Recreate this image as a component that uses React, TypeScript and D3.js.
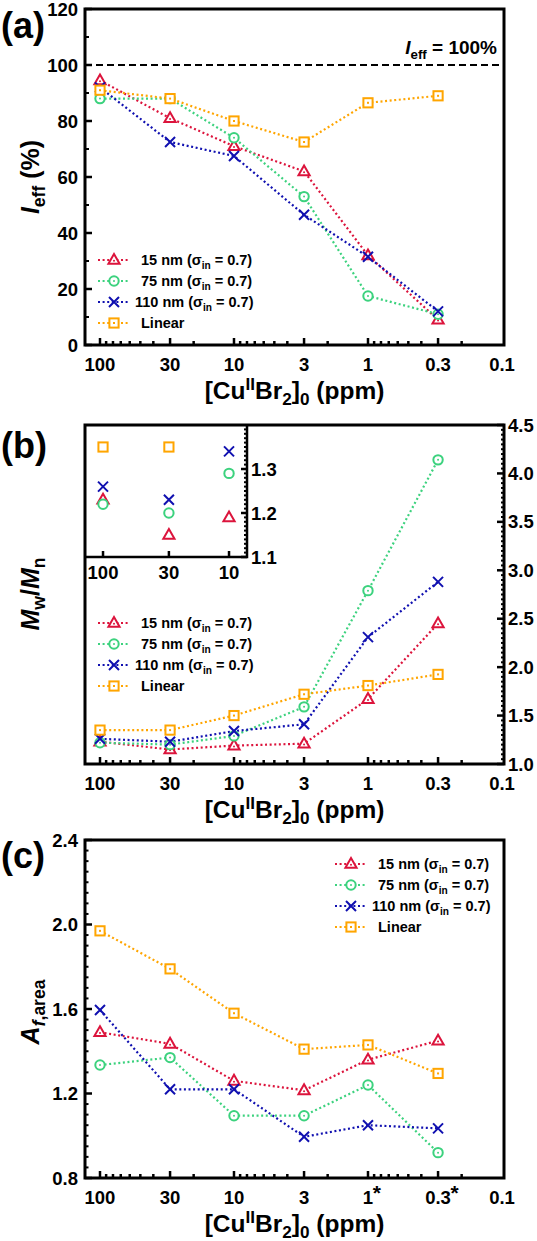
import * as d3 from 'd3';
import React, { useRef, useEffect } from 'react';

// [CuIIBr2]0 in ppm, one entry per point of every series
const conc = [100, 30, 10, 3, 1, 0.3];
const tickValsX = [100, 30, 10, 3, 1, 0.3, 0.1];
const tickLabelsAB = ["100", "30", "10", "3", "1", "0.3", "0.1"];
const tickLabelsC = ["100", "30", "10", "3", "1*", "0.3*", "0.1"];

const seriesNames = ["15 nm", "75 nm", "110 nm", "Linear"];
const seriesColors = ["#DC143C", "#3CD27E", "#1010B0", "#FFA500"];
const seriesShapes = ["triangle", "circle", "cross", "square"];

// (a) initiation efficiency, %
const ieff15 = [94.5, 81, 71, 62, 32, 9];
const ieff75 = [88, 88, 74, 53, 17.5, 11];
const ieff110 = [92, 72.5, 67.5, 46.5, 31.5, 12];
const ieffLin = [91, 88, 80, 72.5, 86.5, 89];

// (b) dispersity Mw/Mn
const disp15 = [1.23, 1.15, 1.19, 1.21, 1.67, 2.45];
const disp75 = [1.22, 1.2, 1.29, 1.59, 2.79, 4.14];
const disp110 = [1.26, 1.23, 1.34, 1.41, 2.31, 2.88];
const dispLin = [1.35, 1.35, 1.5, 1.72, 1.81, 1.925];

// (c) A_f,area
const af15 = [1.49, 1.435, 1.26, 1.215, 1.36, 1.45];
const af75 = [1.335, 1.37, 1.095, 1.095, 1.24, 0.92];
const af110 = [1.595, 1.22, 1.22, 0.995, 1.05, 1.035];
const afLin = [1.97, 1.79, 1.58, 1.41, 1.43, 1.295];

const FONT = "'Liberation Sans', Arial, sans-serif";

type Part = { t: string; it?: boolean; sub?: boolean; sup?: boolean };

function rich(text: any, parts: Part[], subShift: number, supShift: number) {
    let cur = 0;
    parts.forEach(p => {
        const target = p.sub ? subShift : p.sup ? -supShift : 0;
        const ts = text.append("tspan").attr("dy", target - cur).text(p.t);
        if (p.sub || p.sup) ts.attr("font-size", "0.7em");
        if (p.it) ts.attr("font-style", "italic");
        cur = target;
    });
}

function marker(g: any, shape: string, x: number, y: number, color: string, dot: boolean) {
    if (shape === "triangle") {
        g.append("path")
            .attr("d", `M${x},${y - 6}L${x + 5.6},${y + 3.8}L${x - 5.6},${y + 3.8}Z`)
            .attr("fill", "white").attr("stroke", color).attr("stroke-width", 2)
            .attr("stroke-linejoin", "miter");
        if (dot) g.append("circle").attr("cx", x).attr("cy", y + 0.8).attr("r", 1).attr("fill", color);
    } else if (shape === "circle") {
        g.append("circle").attr("cx", x).attr("cy", y).attr("r", 4.7)
            .attr("fill", "white").attr("stroke", color).attr("stroke-width", 2);
        if (dot) g.append("circle").attr("cx", x).attr("cy", y).attr("r", 1).attr("fill", color);
    } else if (shape === "square") {
        g.append("rect").attr("x", x - 4.6).attr("y", y - 4.6).attr("width", 9.2).attr("height", 9.2)
            .attr("fill", "white").attr("stroke", color).attr("stroke-width", 2);
        if (dot) g.append("rect").attr("x", x - 1).attr("y", y - 1).attr("width", 2).attr("height", 2).attr("fill", color);
    } else {
        g.append("path")
            .attr("d", `M${x - 5},${y - 5}L${x + 5},${y + 5}M${x - 5},${y + 5}L${x + 5},${y - 5}`)
            .attr("stroke", color).attr("stroke-width", 2).attr("fill", "none");
    }
}

function App() {
    const ref = useRef<SVGSVGElement>(null);

    useEffect(() => {
        const svg = d3.select(ref.current);
        svg.selectAll("*").remove();
        draw(svg);
    }, []);

    const draw = (svg: any) => {
        const X0 = 85, X1 = 504;
        const xMain = d3.scaleLog().domain([129.4, 0.0966]).range([X0, X1]);

        const minorX = [10, 1, 0.1].flatMap(b => [2, 4, 5, 6, 7, 8, 9].map(k => b * k));

        const g = svg.append("g")
            .attr("font-family", FONT)
            .attr("font-weight", "bold");

        const drawXAxis = (yB: number, labels: string[]) => {
            minorX.forEach(v => {
                g.append("line").attr("x1", xMain(v)).attr("x2", xMain(v))
                    .attr("y1", yB).attr("y2", yB - 4)
                    .attr("stroke", "black").attr("stroke-width", 2.5);
            });
            tickValsX.slice(0, 6).forEach(v => {
                g.append("line").attr("x1", xMain(v)).attr("x2", xMain(v))
                    .attr("y1", yB).attr("y2", yB - 7)
                    .attr("stroke", "black").attr("stroke-width", 2.5);
            });
            tickValsX.forEach((v, i) => {
                const lab = labels[i];
                const star = lab.endsWith("*");
                const num = star ? lab.slice(0, -1) : lab;
                const t = g.append("text")
                    .attr("x", xMain(v)).attr("y", yB + 26)
                    .attr("text-anchor", "middle")
                    .attr("font-size", 18.5)
                    .text(num);
                if (star) {
                    const w = (t.node() as SVGTextElement).getComputedTextLength();
                    g.append("text")
                        .attr("x", xMain(v) + w / 2 - 0.5).attr("y", yB + 22)
                        .attr("font-size", 21)
                        .text("*");
                }
            });
            const title = g.append("text")
                .attr("x", (X0 + X1) / 2).attr("y", yB + 54)
                .attr("text-anchor", "middle")
                .attr("font-size", 24.5);
            rich(title, [
                { t: "[Cu" },
                { t: "II", sup: true },
                { t: "Br" },
                { t: "2", sub: true },
                { t: "]" },
                { t: "0", sub: true },
                { t: " (ppm)" }
            ], 6, 9);
        };

        const drawYTicks = (x: number, dir: number, y: any, major: number[], minor: number[], majLen: number, minLen: number) => {
            minor.forEach(v => {
                g.append("line").attr("x1", x).attr("x2", x + dir * minLen)
                    .attr("y1", y(v)).attr("y2", y(v))
                    .attr("stroke", "black").attr("stroke-width", 2);
            });
            major.forEach(v => {
                g.append("line").attr("x1", x).attr("x2", x + dir * majLen)
                    .attr("y1", y(v)).attr("y2", y(v))
                    .attr("stroke", "black").attr("stroke-width", 2.5);
            });
        };

        const drawSeries = (y: any, sets: number[][]) => {
            sets.forEach((vals, s) => {
                const line = d3.line<number>()
                    .x((d, i) => xMain(conc[i]))
                    .y(d => y(d));
                g.append("path")
                    .attr("d", line(vals))
                    .attr("fill", "none")
                    .attr("stroke", seriesColors[s])
                    .attr("stroke-width", 2.2)
                    .attr("stroke-dasharray", "2 2.6");
            });
            sets.forEach((vals, s) => {
                vals.forEach((v, i) => marker(g, seriesShapes[s], xMain(conc[i]), y(v), seriesColors[s], true));
            });
        };

        const drawLegend = (lx: number, rows: number[]) => {
            seriesNames.forEach((name, s) => {
                const yy = rows[s];
                g.append("line").attr("x1", lx).attr("x2", lx + 32)
                    .attr("y1", yy).attr("y2", yy)
                    .attr("stroke", seriesColors[s]).attr("stroke-width", 2.2)
                    .attr("stroke-dasharray", "2 2.6");
                marker(g, seriesShapes[s], lx + 16, yy, seriesColors[s], true);
                const tx = lx + 43 - (name === "110 nm" ? 6 : 0);
                const t = g.append("text").attr("x", tx).attr("y", yy + 5).attr("font-size", 14.5);
                if (name === "Linear") {
                    t.text(name);
                } else {
                    rich(t, [{ t: name + " (σ" }, { t: "in", sub: true }, { t: " = 0.7)" }], 4, 0);
                }
            });
        };

        const frame = (top: number, bottom: number) => {
            g.append("rect").attr("x", X0).attr("y", top)
                .attr("width", X1 - X0).attr("height", bottom - top)
                .attr("fill", "none").attr("stroke", "black").attr("stroke-width", 3);
        };

        const panelLabel = (txt: string, yb: number) => {
            g.append("text").attr("x", 1).attr("y", yb).attr("font-size", 36).text(txt);
        };

        const yLabel = (cy: number, parts: Part[]) => {
            const t = g.append("text")
                .attr("transform", `translate(39,${cy}) rotate(-90)`)
                .attr("text-anchor", "middle")
                .attr("font-size", 25);
            rich(t, parts, 6, 9);
        };

        // ---------- (a) ----------
        const yA = d3.scaleLinear().domain([0, 120]).range([345, 9]);
        g.append("line").attr("x1", X0).attr("x2", X1)
            .attr("y1", yA(100)).attr("y2", yA(100))
            .attr("stroke", "black").attr("stroke-width", 2)
            .attr("stroke-dasharray", "7 4");
        const eff = g.append("text").attr("x", 497).attr("y", 54)
            .attr("text-anchor", "end").attr("font-size", 19);
        rich(eff, [{ t: "I", it: true }, { t: "eff", sub: true }, { t: " = 100%" }], 5, 0);
        drawSeries(yA, [ieff15, ieff75, ieff110, ieffLin]);
        drawYTicks(X0, 1, yA, d3.range(0, 121, 20), d3.range(10, 120, 20), 7, 4);
        frame(9, 345);
        drawXAxis(345, tickLabelsAB);
        d3.range(0, 121, 20).forEach(v => {
            g.append("text").attr("x", 78).attr("y", yA(v) + 6.5)
                .attr("text-anchor", "end").attr("font-size", 18.5).text(v);
        });
        drawLegend(98, [260, 281, 302, 323]);
        panelLabel("(a)", 38);
        yLabel(177, [{ t: "I", it: true }, { t: "eff", sub: true }, { t: " (%)" }]);

        // ---------- (b) ----------
        const yB = d3.scaleLinear().domain([1, 4.5]).range([764, 425]);
        drawSeries(yB, [disp15, disp75, disp110, dispLin]);

        // inset: first three concentrations on a zoomed scale
        const xIn = d3.scaleLog().domain([139, 7.2]).range([X0, 247]);
        const yIn = d3.scaleLinear().domain([1.1, 1.4]).range([557, 425]);
        g.append("rect").attr("x", X0).attr("y", 425).attr("width", 247 - X0).attr("height", 557 - 425)
            .attr("fill", "white");
        [disp15, disp75, disp110, dispLin].forEach((vals, s) => {
            vals.slice(0, 3).forEach((v, i) => {
                if (v > 1.4 || v < 1.1) return;
                marker(g, seriesShapes[s], xIn(conc[i]), yIn(v), seriesColors[s], false);
            });
        });
        g.append("path").attr("d", `M${X0},557H247V425`)
            .attr("fill", "none").attr("stroke", "black").attr("stroke-width", 2.5);
        drawYTicks(247, -1, yIn, [1.1, 1.2, 1.3], d3.range(111, 140, 1).filter(v => v % 10 !== 0).map(v => v / 100), 6, 3);
        [100, 30, 10].forEach(v => {
            g.append("line").attr("x1", xIn(v)).attr("x2", xIn(v))
                .attr("y1", 557).attr("y2", 551)
                .attr("stroke", "black").attr("stroke-width", 2.5);
            g.append("text").attr("x", xIn(v)).attr("y", 579)
                .attr("text-anchor", "middle").attr("font-size", 18.5).text(v);
        });
        [1.1, 1.2, 1.3].forEach(v => {
            g.append("text").attr("x", 251).attr("y", yIn(v) + 6.5)
                .attr("font-size", 18.5).text(d3.format(".1f")(v));
        });

        drawYTicks(X1, -1, yB, d3.range(1, 4.51, 0.5),
            d3.range(100, 451, 5).filter(v => v % 50 !== 0).map(v => v / 100), 7, 3);
        frame(425, 764);
        drawXAxis(764, tickLabelsAB);
        d3.range(1, 4.51, 0.5).forEach(v => {
            g.append("text").attr("x", 508).attr("y", yB(v) + 6.5)
                .attr("font-size", 18.5).text(d3.format(".1f")(v));
        });
        drawLegend(98, [623, 644, 665, 686]);
        panelLabel("(b)", 458);
        yLabel(594, [{ t: "M", it: true }, { t: "w", sub: true }, { t: "/" }, { t: "M", it: true }, { t: "n", sub: true }]);

        // ---------- (c) ----------
        const yC = d3.scaleLinear().domain([0.8, 2.4]).range([1178, 840]);
        drawSeries(yC, [af15, af75, af110, afLin]);
        drawYTicks(X0, 1, yC, [0.8, 1.2, 1.6, 2.0, 2.4],
            d3.range(80, 241, 5).filter(v => v % 40 !== 0).map(v => v / 100), 7, 3.5);
        frame(840, 1178);
        drawXAxis(1178, tickLabelsC);
        [0.8, 1.2, 1.6, 2.0, 2.4].forEach(v => {
            g.append("text").attr("x", 78).attr("y", yC(v) + 6.5)
                .attr("text-anchor", "end").attr("font-size", 18.5).text(d3.format(".1f")(v));
        });
        drawLegend(335, [864, 885, 906, 927]);
        panelLabel("(c)", 868);
        yLabel(1012, [{ t: "A", it: true }, { t: "f", sub: true, it: true }, { t: ",area", sub: true }]);
    };

    return (
        <svg ref={ref} width={537} height={1241}
            style={{ position: "absolute", left: 0, top: 0, background: "white" }}>
        </svg>
    );
}

export default App;
